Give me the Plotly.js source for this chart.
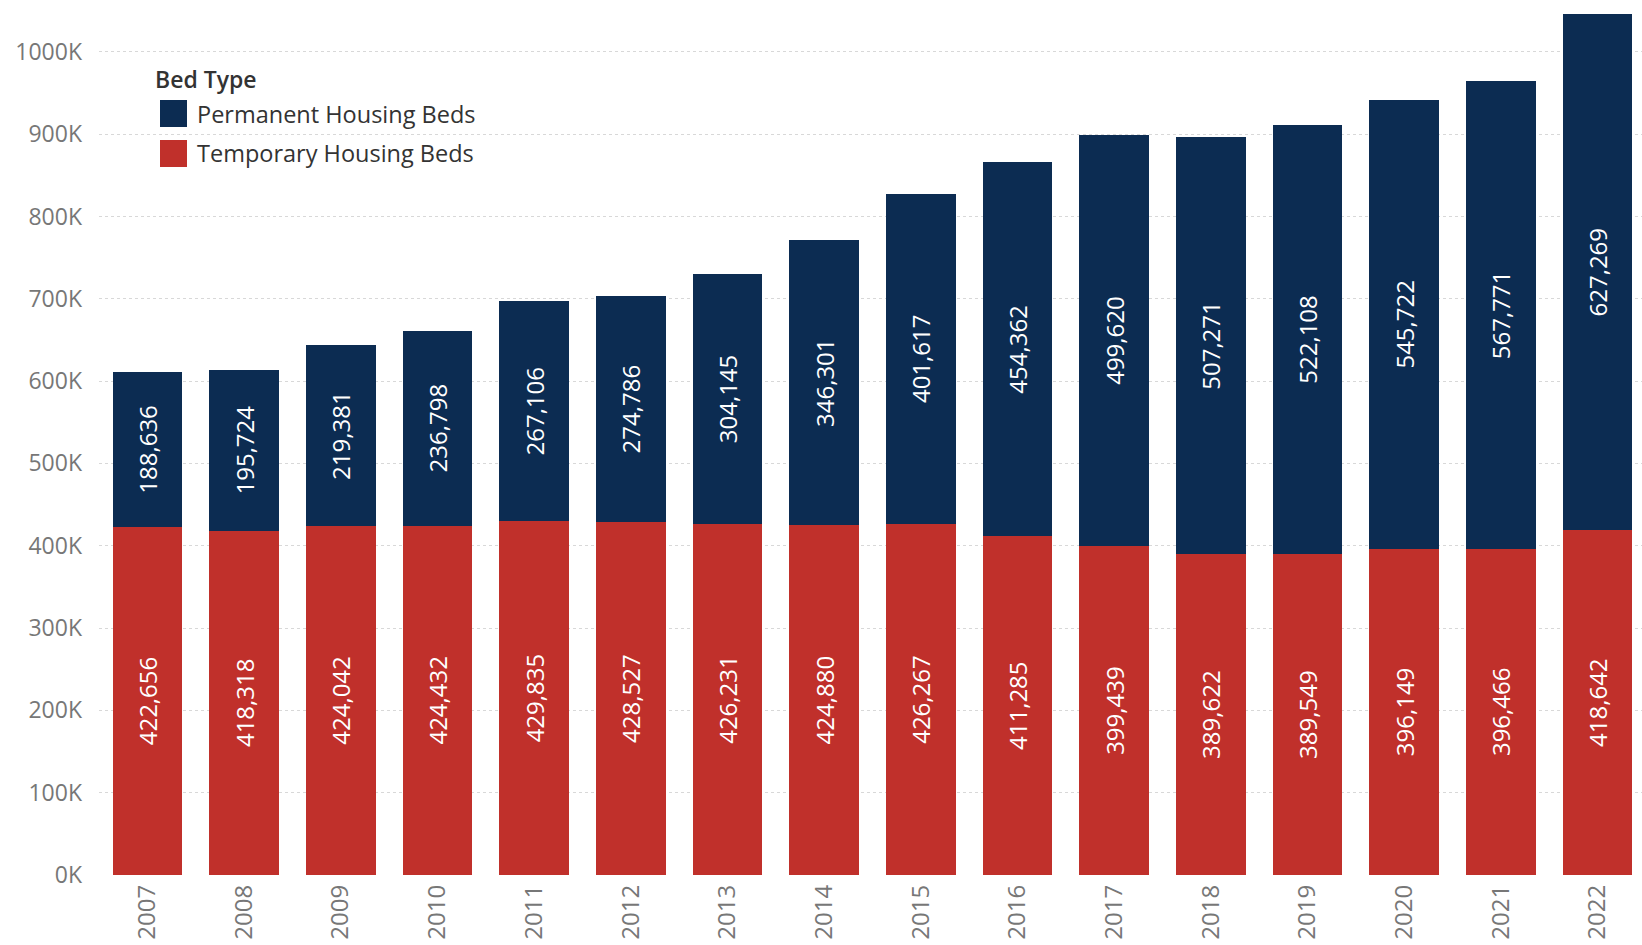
<!DOCTYPE html>
<html>
<head>
<meta charset="utf-8">
<script src="https://cdn.plot.ly/plotly-3.0.1.min.js"></script>
<style>
  html, body { margin: 0; padding: 0; background: #ffffff; }
  #chart { width: 1642px; height: 945px; }
</style>
</head>
<body>
<div id="chart"></div>
<script>
// ---- Data ----
const years = ['2007','2008','2009','2010','2011','2012','2013','2014','2015','2016','2017','2018','2019','2020','2021','2022'];
const temporaryBeds = [422656, 418318, 424042, 424432, 429835, 428527, 426231, 424880, 426267, 411285, 399439, 389622, 389549, 396149, 396466, 418642];
const permanentBeds = [188636, 195724, 219381, 236798, 267106, 274786, 304145, 346301, 401617, 454362, 499620, 507271, 522108, 545722, 567771, 627269];
const yTickVals = [0, 100000, 200000, 300000, 400000, 500000, 600000, 700000, 800000, 900000, 1000000];
const yTickText = ['0K','100K','200K','300K','400K','500K','600K','700K','800K','900K','1000K'];
const legendTitle = 'Bed Type';
const permanentName = 'Permanent Housing Beds';
const temporaryName = 'Temporary Housing Beds';

// ---- Styles ----
const navy = '#0c2c52';
const red = '#c0302b';
const fontFamily = '"Open Sans", "Noto Sans", sans-serif';

const W = 1642, H = 945;
const M = {l: 99, r: 0, t: 0, b: 70};
const plotW = W - M.l - M.r, plotH = H - M.t - M.b;
const px = x => (x - M.l) / plotW;
const py = y => (H - M.b - y) / plotH;

const common = {
  type: 'bar',
  x: years,
  textposition: 'inside',
  insidetextanchor: 'middle',
  textangle: -90,
  texttemplate: '%{y:,}',
  textfont: {family: fontFamily, size: 24, color: '#ffffff'},
  constraintext: 'none',
  hoverinfo: 'skip',
  showlegend: false
};

const traces = [
  Object.assign({}, common, {name: temporaryName, y: temporaryBeds, marker: {color: red}}),
  Object.assign({}, common, {name: permanentName, y: permanentBeds, marker: {color: navy}})
];

const layout = {
  width: W, height: H,
  margin: M,
  barmode: 'stack',
  bargap: 0.28,
  paper_bgcolor: '#ffffff',
  plot_bgcolor: '#ffffff',
  font: {family: fontFamily, color: '#666666'},
  xaxis: {
    type: 'category',
    range: [-0.5, 15.46],
    tickangle: -90,
    tickfont: {size: 24, color: '#777777'},
    showgrid: false,
    zeroline: false,
    showline: false,
    ticks: '',
    ticklabelstandoff: 4
  },
  yaxis: {
    range: [0, 1063000],
    tickvals: yTickVals,
    ticktext: yTickText,
    tickfont: {size: 23, color: '#777777'},
    showgrid: true,
    gridcolor: '#d8d8d8',
    griddash: 'dot',
    gridwidth: 1,
    zeroline: false,
    showline: false,
    ticks: '',
    ticklabelstandoff: 16
  },
  shapes: [
    {type: 'rect', xref: 'paper', yref: 'paper', x0: px(150), x1: px(525), y0: py(200), y1: py(58),
     fillcolor: '#ffffff', line: {width: 0}, layer: 'between'},
    {type: 'rect', xref: 'paper', yref: 'paper', x0: px(160), x1: px(187), y0: py(127), y1: py(100),
     fillcolor: navy, line: {width: 0}, layer: 'above'},
    {type: 'rect', xref: 'paper', yref: 'paper', x0: px(160), x1: px(187), y0: py(167), y1: py(140),
     fillcolor: red, line: {width: 0}, layer: 'above'}
  ],
  annotations: [
    {xref: 'paper', yref: 'paper', x: px(153), y: py(79), xanchor: 'left', yanchor: 'middle',
     text: legendTitle, showarrow: false, font: {family: fontFamily, size: 23, color: '#333333', weight: 600}},
    {xref: 'paper', yref: 'paper', x: px(195), y: py(114), xanchor: 'left', yanchor: 'middle',
     text: permanentName, showarrow: false, font: {family: fontFamily, size: 23.5, color: '#333333'}},
    {xref: 'paper', yref: 'paper', x: px(195), y: py(153), xanchor: 'left', yanchor: 'middle',
     text: temporaryName, showarrow: false, font: {family: fontFamily, size: 23.5, color: '#333333'}}
  ]
};

Plotly.newPlot('chart', traces, layout, {displayModeBar: false, staticPlot: true});
</script>
</body>
</html>
